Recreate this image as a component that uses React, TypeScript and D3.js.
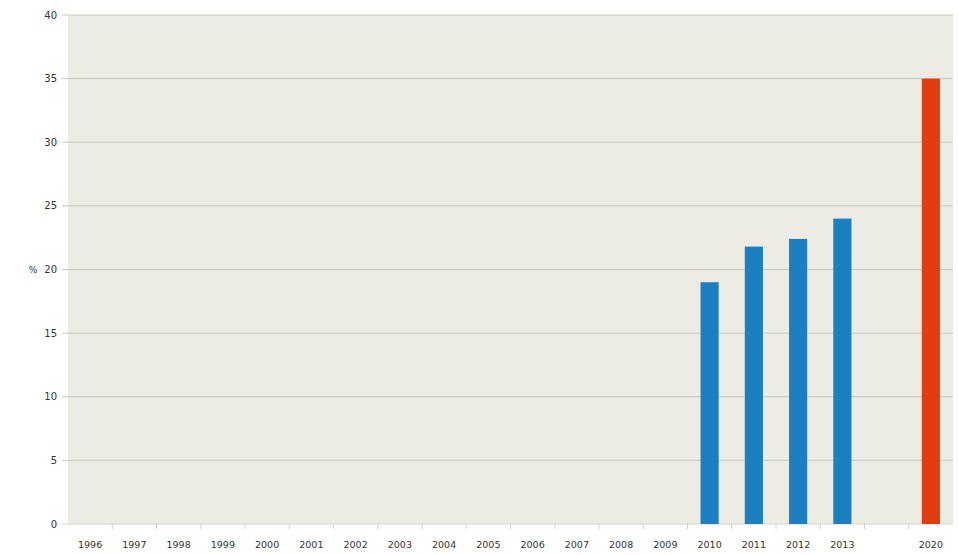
import React from "react";
import * as d3 from "d3";

const categories = ["1996","1997","1998","1999","2000","2001","2002","2003","2004","2005","2006","2007","2008","2009","2010","2011","2012","2013","","2020"];
const values: (number | null)[] = [null,null,null,null,null,null,null,null,null,null,null,null,null,null,19.0,21.8,22.4,24.0,null,35.0];
const targetCategory = "2020";
const yTicks = [0,5,10,15,20,25,30,35,40];
const yLabel = "%";

const W = 958, H = 555;
const M = { left: 68, right: 5, top: 15, bottom: 31 };

export default function App() {
  const x = d3.scaleBand<number>().domain(d3.range(categories.length)).range([M.left, W - M.right]).paddingInner(0).paddingOuter(0);
  const y = d3.scaleLinear().domain([0, 40]).range([H - M.bottom, M.top]);
  const bw = x.bandwidth() * 0.41;
  const font = "'DejaVu Sans', Verdana, sans-serif";
  return (
    <svg width={W} height={H} style={{ position: "absolute", left: 0, top: 0, background: "#fff" }}>
      <rect x={M.left} y={M.top} width={W - M.right - M.left} height={H - M.bottom - M.top} fill="#ecebe4" />
      {yTicks.map(t => (
        <g key={t}>
          <line x1={M.left - 6} x2={W - M.right} y1={y(t)} y2={y(t)} stroke={t === 0 ? "#d6d6ce" : "#c6c6bd"} strokeWidth={1} />
          <text x={57} y={y(t)} dy="0.35em" textAnchor="end" fontFamily={font} fontSize={10} fill="#333">{t}</text>
        </g>
      ))}
      {categories.map((c, i) => (
        <g key={i}>
          {i > 0 && <line x1={x(i)!} x2={x(i)!} y1={y(0)} y2={y(0) + 5} stroke="#d0d0c8" />}
          <text x={x(i)! + x.bandwidth() / 2} y={548} textAnchor="middle" fontFamily={font} fontSize={9.5} fill="#333">{c}</text>
        </g>
      ))}
      {values.map((v, i) => v == null ? null : (
        <rect key={i} x={x(i)! + (x.bandwidth() - bw) / 2} y={y(v)} width={bw} height={y(0) - y(v)}
          fill={categories[i] === targetCategory ? "#e23d10" : "#1b80c2"} />
      ))}
      <text x={33} y={270} textAnchor="middle" dy="0.35em" fontFamily={font} fontSize={9} fill="#333">{yLabel}</text>
    </svg>
  );
}
